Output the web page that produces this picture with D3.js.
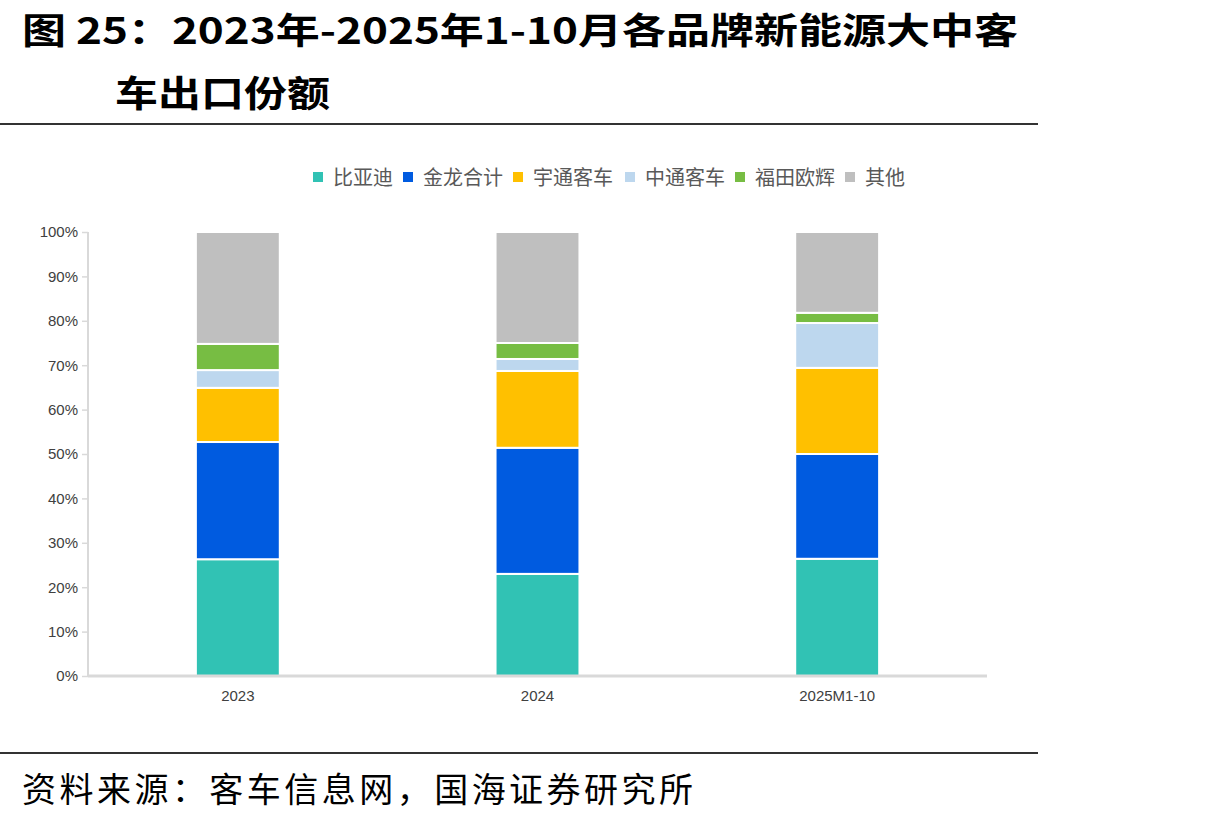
<!DOCTYPE html>
<html>
<head>
<meta charset="utf-8">
<script src="https://cdn.jsdelivr.net/npm/d3@7"></script>
<style>
  body { margin: 0; background: #fff; }
  svg { display: block; }
</style>
</head>
<body>
<div id="chart"></div>
<script>
// categories and series (share, %)
var years = ["2023", "2024", "2025M1-10"];
var brands = ["比亚迪", "金龙合计", "宇通客车", "中通客车", "福田欧辉", "其他"];
var colors = ["#31C2B4", "#005BE0", "#FFC000", "#BDD7EE", "#77BD43", "#BFBFBF"];
var byd = [26.3, 23.0, 26.4];
var jinlong = [26.4, 28.4, 23.6];
var yutong = [12.2, 17.3, 19.4];
var zhongtong = [4.0, 2.7, 10.1];
var futian = [5.9, 3.6, 2.3];
var others = [25.2, 25.0, 18.2];
var yTicks = [0, 10, 20, 30, 40, 50, 60, 70, 80, 90, 100];

var series = [byd, jinlong, yutong, zhongtong, futian, others];
var rows = years.map(function (y, i) {
  var r = { year: y };
  brands.forEach(function (b, j) { r[b] = series[j][i]; });
  return r;
});

var W = 1214, H = 823;
var svg = d3.select("#chart").append("svg").attr("width", W).attr("height", H);

// title
var titleFont = "'Noto Sans CJK SC', 'Liberation Sans', sans-serif";
svg.append("text")
  .attr("x", 22).attr("y", 44)
  .attr("font-family", titleFont).attr("font-weight", "bold")
  .attr("font-size", 36).attr("textLength", 996).attr("lengthAdjust", "spacingAndGlyphs")
  .attr("fill", "#000")
  .text("图 25：2023年-2025年1-10月各品牌新能源大中客");
svg.append("text")
  .attr("x", 115).attr("y", 107)
  .attr("font-family", titleFont).attr("font-weight", "bold")
  .attr("font-size", 36).attr("textLength", 215).attr("lengthAdjust", "spacingAndGlyphs")
  .attr("fill", "#000")
  .text("车出口份额");

svg.append("line").attr("x1", 0).attr("x2", 1038).attr("y1", 124).attr("y2", 124)
  .attr("stroke", "#333").attr("stroke-width", 2);
svg.append("line").attr("x1", 0).attr("x2", 1038).attr("y1", 753).attr("y2", 753)
  .attr("stroke", "#333").attr("stroke-width", 2);

svg.append("text")
  .attr("x", 22).attr("y", 802)
  .attr("font-family", "'Noto Sans CJK SC', sans-serif")
  .attr("font-size", 34).attr("textLength", 671).attr("lengthAdjust", "spacing")
  .attr("fill", "#000")
  .text("资料来源：客车信息网，国海证券研究所");

// plot
var margin = { left: 88, right: 1214 - 987, top: 232, bottom: 823 - 676 };
var x = d3.scaleBand().domain(years).range([margin.left, 987]).paddingInner(0.72).paddingOuter(0.36);
var y = d3.scaleLinear().domain([0, 100]).range([676, 232]);

var stack = d3.stack().keys(brands);
var layers = stack(rows);

var g = svg.append("g");
g.selectAll("g.layer")
  .data(layers)
  .enter().append("g")
  .attr("class", "layer")
  .attr("fill", function (d, i) { return colors[i]; })
  .selectAll("rect")
  .data(function (d) { return d; })
  .enter().append("rect")
  .attr("x", function (d) { return x(d.data.year); })
  .attr("width", x.bandwidth())
  .attr("y", function (d) { return y(d[1]); })
  .attr("height", function (d) { return y(d[0]) - y(d[1]); })
  .attr("stroke", "#fff").attr("stroke-width", 2);

// axes
var yAxis = svg.append("g")
  .attr("transform", "translate(" + margin.left + ",0)")
  .call(d3.axisLeft(y).tickValues(yTicks).tickSize(6).tickPadding(4)
    .tickFormat(function (d) { return d + "%"; }));
yAxis.select(".domain").attr("stroke", "#D9D9D9").attr("stroke-width", 2)
  .attr("d", "M0,232V676");
yAxis.selectAll(".tick line").attr("stroke", "#D9D9D9").attr("stroke-width", 1.5);
yAxis.selectAll("text").attr("font-family", "'Liberation Sans', Arial, sans-serif")
  .attr("font-size", 15).attr("fill", "#404040");

var xAxis = svg.append("g")
  .attr("transform", "translate(0,676)")
  .call(d3.axisBottom(x).tickSize(0).tickPadding(14));
xAxis.select(".domain").attr("stroke", "#D9D9D9").attr("stroke-width", 3)
  .attr("d", "M" + margin.left + ",0H987");
xAxis.selectAll("text").attr("font-family", "'Liberation Sans', Arial, sans-serif")
  .attr("font-size", 15).attr("fill", "#404040");

// legend
var legendX = [313, 403, 513, 625, 735, 845];
var legend = svg.append("g");
brands.forEach(function (b, i) {
  legend.append("rect").attr("x", legendX[i]).attr("y", 172).attr("width", 10).attr("height", 10)
    .attr("fill", colors[i]);
  legend.append("text").attr("x", legendX[i] + 20).attr("y", 185)
    .attr("font-family", "'Noto Sans CJK SC', sans-serif")
    .attr("font-size", 20).attr("fill", "#595959")
    .text(b);
});
</script>
</body>
</html>
